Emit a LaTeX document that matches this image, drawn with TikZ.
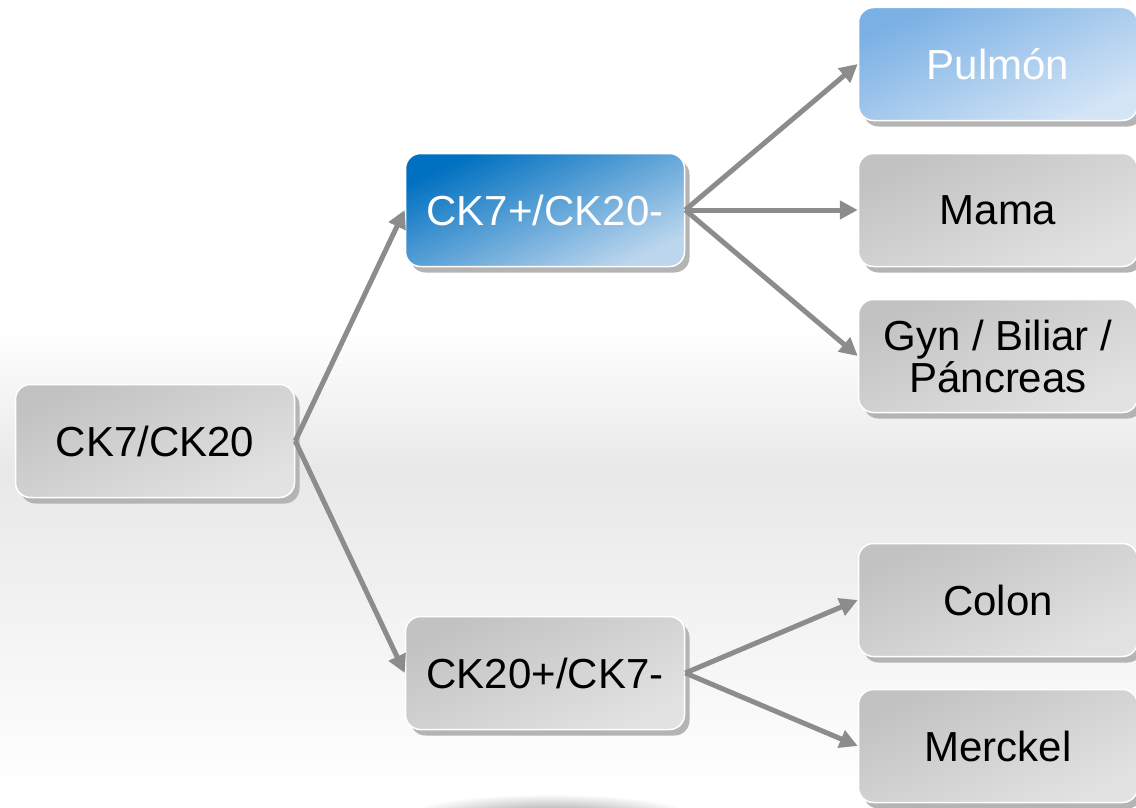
\documentclass[tikz,border=0pt]{standalone}
\usepackage{fontspec}
\setmainfont{Liberation Sans}
\usetikzlibrary{arrows.meta,shadows}
\definecolor{boxtop}   {HTML}{C2C2C2}
\definecolor{boxbot}   {HTML}{E2E2E2}
\definecolor{bluetop}  {HTML}{0070C0}
\definecolor{bluebot}  {HTML}{BCD6EE}
\definecolor{paletop}  {HTML}{7AB0E4}
\definecolor{palebot}  {HTML}{D4E5F6}
\definecolor{linkgray} {HTML}{8C8C8C}
\definecolor{shadegray}{HTML}{B4B4B4}
\definecolor{band}     {HTML}{E8E8E8}

\begin{document}
\begin{tikzpicture}[x=1pt,y=-1pt,
  box/.style={rounded corners=15pt, draw=white, line width=1.5pt,
    minimum width=279pt, minimum height=113pt, inner sep=0pt, align=center,
    font=\fontsize{42}{42}\selectfont,
    drop shadow={shadow xshift=5pt, shadow yshift=-6pt, fill=shadegray, opacity=1}},
  graybox/.style={box, top color=boxtop, bottom color=boxbot, shading angle=25, text=black},
  bluebox/.style={box, top color=bluetop, bottom color=bluebot, shading angle=25, text=white},
  palebox/.style={box, top color=paletop, bottom color=palebot, shading angle=25, text=white},
  link/.style={draw=linkgray, line width=5pt,
    -{Triangle[length=18pt, width=18pt]}}]
 \useasboundingbox (0,0) rectangle (1136,808);
 % background band
 \shade[top color=white, bottom color=band] (0,330) rectangle (1136,470);
 \shade[top color=band, bottom color=white] (0,470) rectangle (1136,790);
 \shade[inner color=gray!85, outer color=white] (550,818) ellipse [x radius=150, y radius=24];
 % nodes
 \node[graybox] (root)    at (155,441) {CK7/CK20};
 \node[bluebox] (pos)     at (545,210) {CK7+/CK20-};
 \node[graybox] (neg)     at (545,673) {CK20+/CK7-};
 \node[palebox] (pulmon)  at (998,64)  {Pulmón};
 \node[graybox] (mama)    at (998,210) {Mama};
 \node[graybox] (gyn)     at (998,356) {Gyn / Biliar /\\Páncreas};
 \node[graybox] (colon)   at (998,600) {Colon};
 \node[graybox] (merckel) at (998,746) {Merckel};
 % connectors
 \draw[link] (root.east) -- (pos.west);
 \draw[link] (root.east) -- (neg.west);
 \draw[link] (pos.east) -- (pulmon.west);
 \draw[link] (pos.east) -- (mama.west);
 \draw[link] (pos.east) -- (gyn.west);
 \draw[link] (neg.east) -- (colon.west);
 \draw[link] (neg.east) -- (merckel.west);
\end{tikzpicture}
\end{document}
